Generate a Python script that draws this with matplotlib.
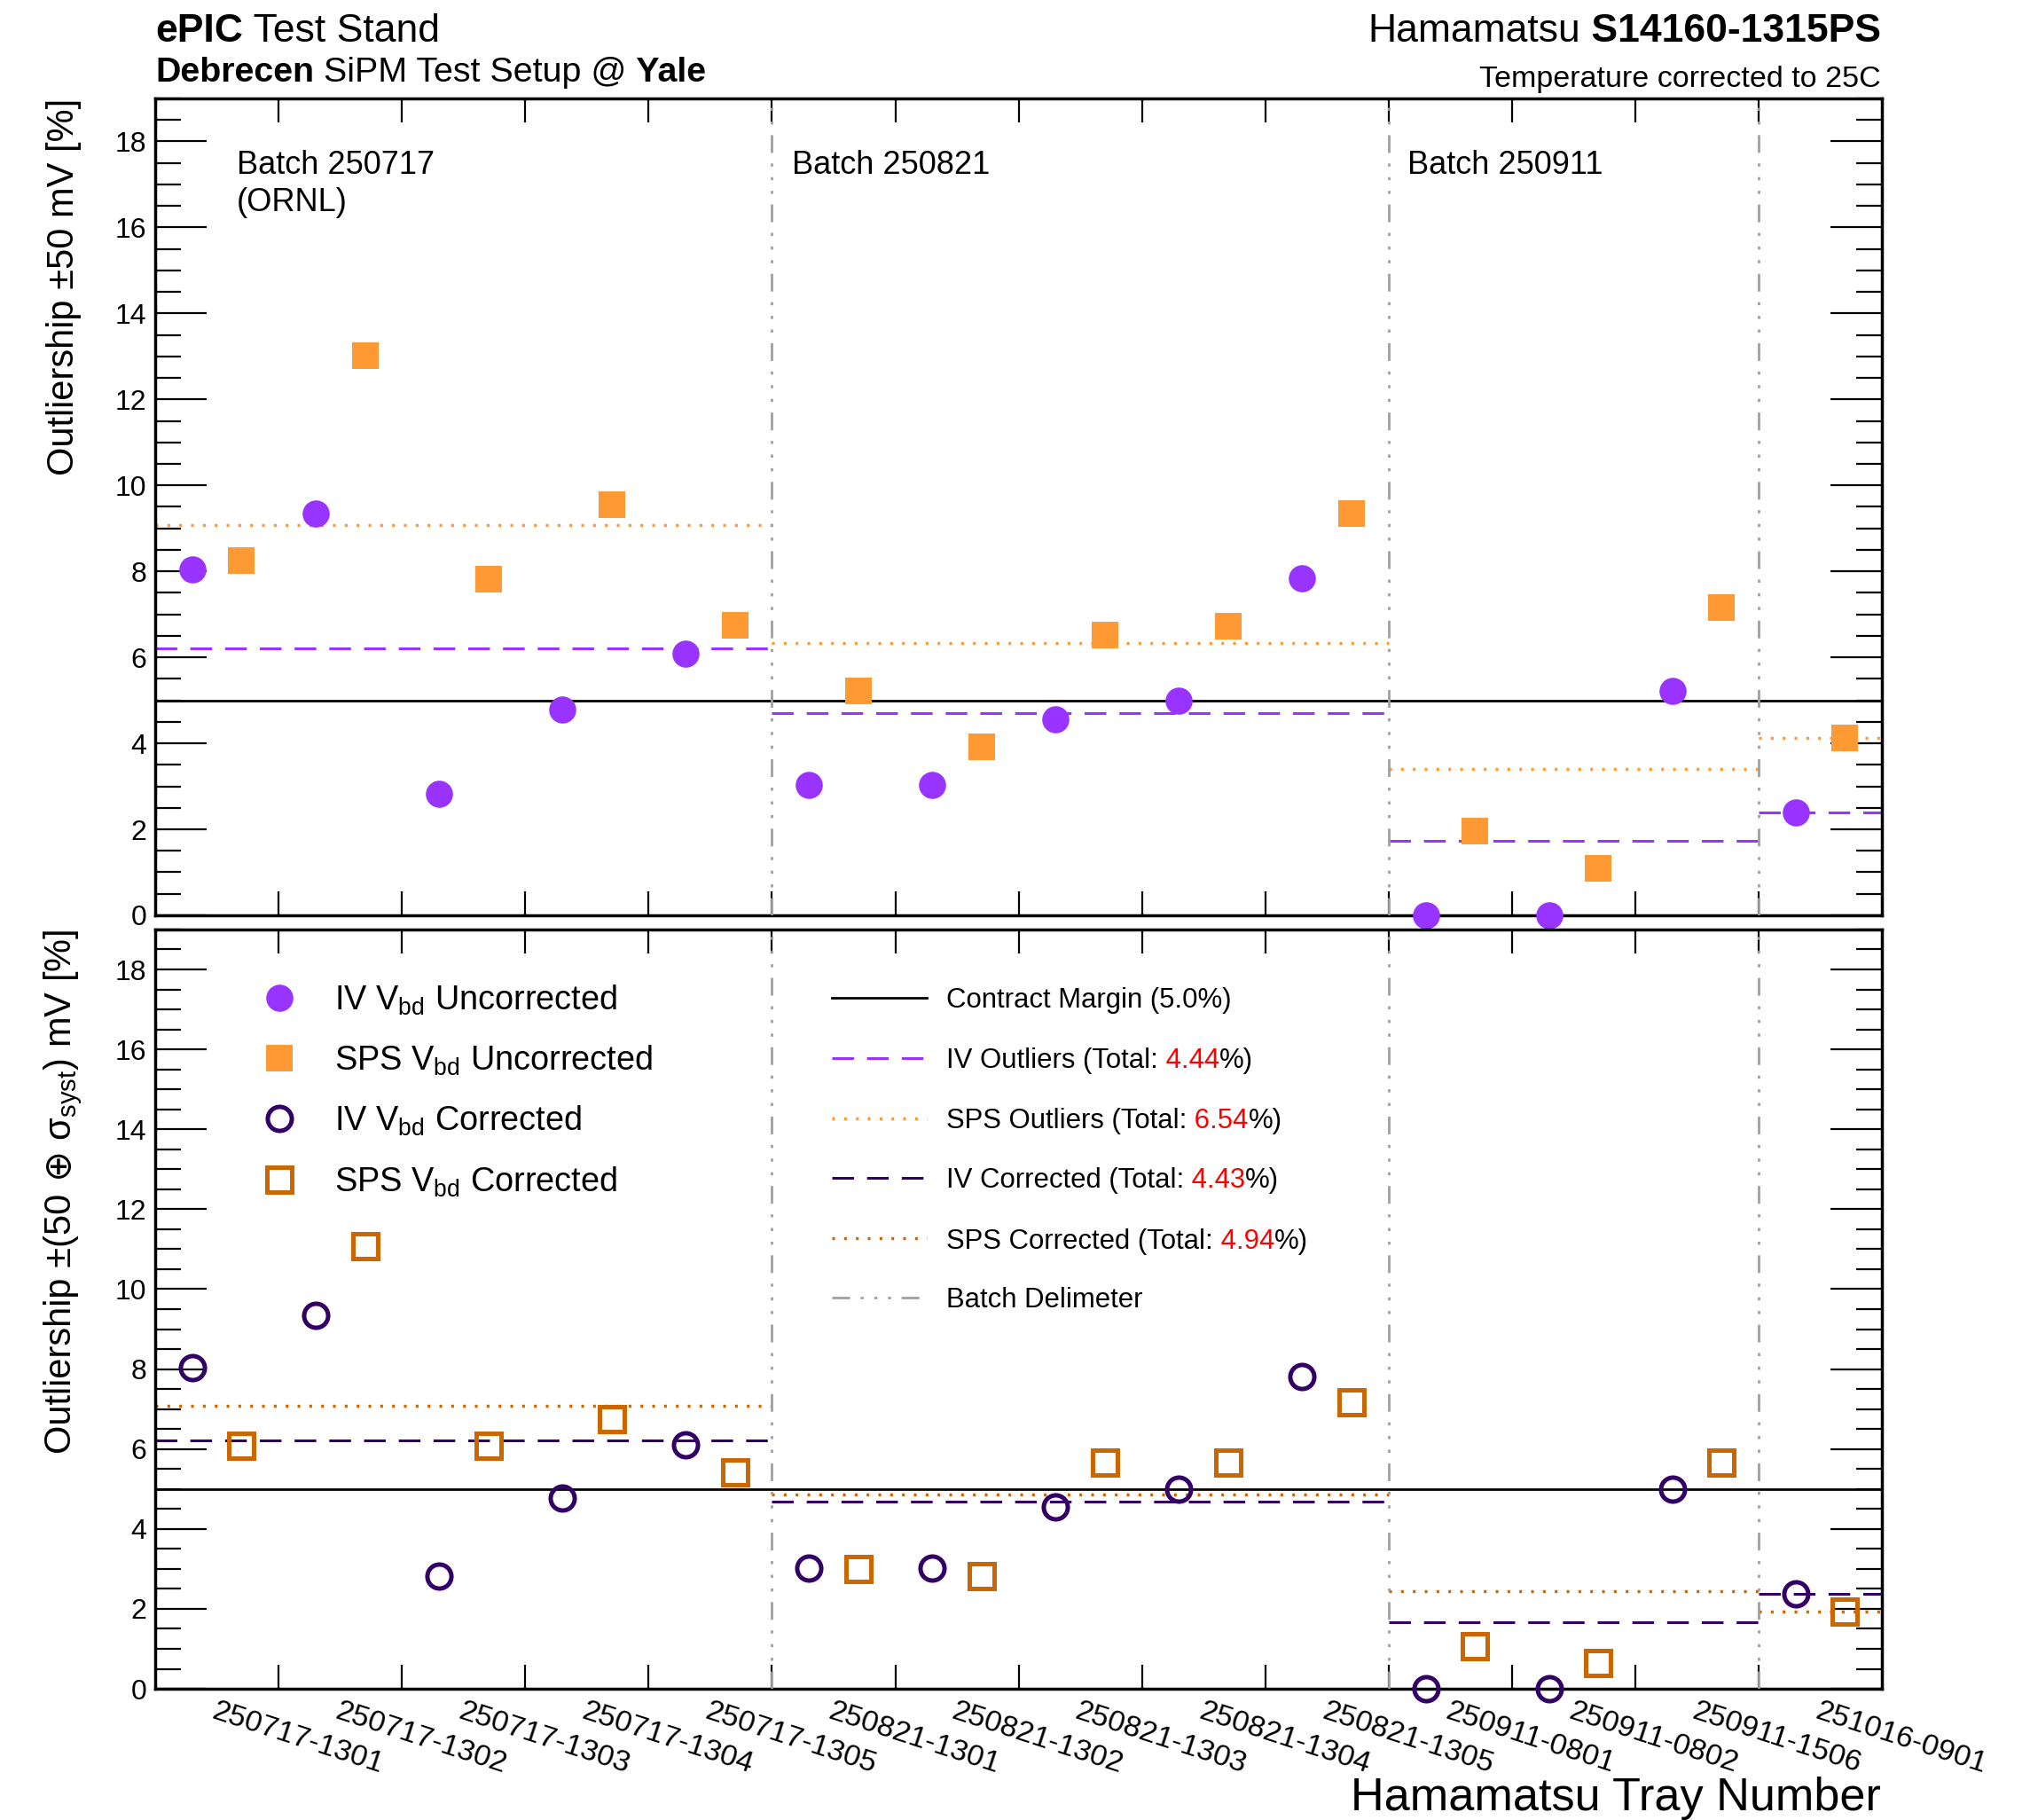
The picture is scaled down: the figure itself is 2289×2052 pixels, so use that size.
import numpy as np
import matplotlib
matplotlib.use("Agg")
import matplotlib.pyplot as plt
from matplotlib.lines import Line2D

plt.rcParams['font.family'] = ['Liberation Sans', 'DejaVu Sans']
plt.rcParams['mathtext.fontset'] = 'custom'
plt.rcParams['mathtext.rm'] = 'Liberation Sans'
plt.rcParams['mathtext.it'] = 'Liberation Sans:italic'
plt.rcParams['mathtext.bf'] = 'Liberation Sans:bold'
plt.rcParams['lines.scale_dashes'] = False

# ---------------- data ----------------
trays = ["250717-1301", "250717-1302", "250717-1303", "250717-1304", "250717-1305",
         "250821-1301", "250821-1302", "250821-1303", "250821-1304", "250821-1305",
         "250911-0801", "250911-0802", "250911-1506", "251016-0901"]
batch_edges = [0, 5, 10, 13, 14]
batch_names = [["Batch 250717", "(ORNL)"], ["Batch 250821"], ["Batch 250911"]]
batch_name_x = [0.66, 5.16, 10.15]

iv_uncorr = [8.04, 9.34, 2.83, 4.78, 6.09, 3.04, 3.04, 4.56, 5.00, 7.83, 0.00, 0.00, 5.21, 2.39]
sps_uncorr = [8.25, 13.01, 7.81, 9.55, 6.74, 5.21, 3.91, 6.51, 6.72, 9.34, 1.95, 1.09, 7.15, 4.13]
iv_corr = [8.03, 9.34, 2.82, 4.78, 6.10, 3.02, 3.02, 4.56, 5.00, 7.82, 0.00, 0.00, 5.00, 2.38]
sps_corr = [6.08, 11.08, 6.08, 6.75, 5.42, 3.00, 2.82, 5.65, 5.65, 7.18, 1.07, 0.64, 5.65, 1.93]

contract_margin = 5.0
total_iv = "4.44"
total_sps = "6.54"
total_ivc = "4.43"
total_spsc = "4.94"

# ---------------- style ----------------
C_IV = '#9933FF'
C_SPS = '#FF9933'
C_IVC = '#330066'
C_SPSC = '#CC6600'
C_GRAY = '#A0A0A0'
DASH = (17.6, 10.6)
DOT = (2.2, 7.4)
DELIM = (14.4, 8.6, 2.5, 8.6, 2.5, 8.6, 2.5, 8.6)

fig = plt.figure(figsize=(22.89, 20.52), dpi=100)
ax1 = fig.add_axes([0.0765, 0.4971, 0.8506, 0.4488])
ax2 = fig.add_axes([0.0765, 0.0721, 0.8506, 0.4172])

n = len(trays)
xpos = np.arange(n)
centers = xpos + 0.5


def style(ax):
    ax.set_xlim(0, n)
    ax.set_ylim(0, 19)
    ax.set_xticks(np.arange(1, n))
    ax.set_xticklabels([])
    ax.set_yticks(np.arange(0, 19, 2))
    ax.set_yticks(np.arange(0, 19.01, 0.5), minor=True)
    ax.tick_params(axis='y', which='major', direction='in', length=42, width=1.6,
                   left=True, right=True, labelsize=23, pad=7)
    ax.tick_params(axis='y', which='minor', direction='in', length=21, width=1.6,
                   left=True, right=True)
    ax.tick_params(axis='x', which='major', direction='in', length=19.5, width=1.6,
                   top=True, bottom=True)
    for sp in ax.spines.values():
        sp.set_linewidth(2.5)
    ax.axhline(contract_margin, color='black', lw=2.0, zorder=2)
    for e in batch_edges[1:-1]:
        ax.axvline(e, color=C_GRAY, lw=2.0, dashes=DELIM, zorder=3)


def batch_means(ax, vals, color, dashes, lw):
    v = np.asarray(vals)
    for k in range(len(batch_edges) - 1):
        a, b = batch_edges[k], batch_edges[k + 1]
        m = v[a:b].mean()
        ax.plot([a, b], [m, m], color=color, lw=lw, dashes=dashes, zorder=2)


style(ax1)
style(ax2)

# top panel
batch_means(ax1, iv_uncorr, C_IV, DASH, 2.2)
batch_means(ax1, sps_uncorr, C_SPS, DOT, 2.5)
ax1.plot(xpos + 0.3, iv_uncorr, 'o', ms=22, mew=0, color=C_IV, clip_on=False, zorder=6)
ax1.plot(xpos + 0.7, sps_uncorr, 's', ms=22, mew=0, color=C_SPS, clip_on=False, zorder=6)

# bottom panel
batch_means(ax2, iv_corr, C_IVC, DASH, 2.2)
batch_means(ax2, sps_corr, C_SPSC, DOT, 2.5)
ax2.plot(xpos + 0.3, iv_corr, 'o', ms=19.5, mfc='none', mec=C_IVC, mew=3.6,
         clip_on=False, zorder=6)
ax2.plot(xpos + 0.7, sps_corr, 's', ms=19.5, mfc='none', mec=C_SPSC, mew=3.6,
         clip_on=False, zorder=6)

# x tick labels (bin centres)
ax2.set_xticks(centers, trays, minor=True, rotation=-18, ha='left',
               rotation_mode='anchor')
ax2.tick_params(axis='x', which='minor', length=0, labelsize=24.5, pad=7)

# batch names
for names, bx in zip(batch_names, batch_name_x):
    ys = [17.25, 16.39]
    for t, yy in zip(names, ys):
        ax1.text(bx, yy, t, fontsize=26, ha='left', va='baseline')

# axis titles
ax1.text(-0.0529, 1.0, "Outliership ±50 mV [%]", rotation=90, ha='center', va='top',
         transform=ax1.transAxes, fontsize=30)

# bottom y title built top-down in three pieces (the ⊕ comes from DejaVu Sans)
yl_x = -0.0488
yl_c = ax2.text(yl_x, 1.0, r" σ$_{\mathregular{syst}}$) mV [%]", rotation=90,
                rotation_mode='anchor', ha='right', va='baseline',
                transform=ax2.transAxes, fontsize=30)
yl_b = ax2.annotate(" ⊕", xy=(yl_x, 0), xycoords=(ax2.transAxes, yl_c), rotation=90,
                    rotation_mode='anchor', ha='right', va='baseline', fontsize=30,
                    family=['DejaVu Sans'], annotation_clip=False)
yl_a = ax2.annotate("Outliership ±(50", xy=(yl_x, 0), xycoords=(ax2.transAxes, yl_b),
                    rotation=90, rotation_mode='anchor', ha='right', va='baseline',
                    fontsize=30, annotation_clip=False)

fig.text(0.9266, 0.0054, "Hamamatsu Tray Number", ha='right', va='baseline', fontsize=37.6)


def chain(first, parts, **common):
    prev = first
    for txt, kw in parts:
        kk = dict(common)
        kk.update(kw)
        prev = ax1.annotate(txt, xy=(1, 0), xycoords=prev, ha='left', va='bottom',
                            annotation_clip=False, **kk)
    return prev


# header
t = fig.text(0.0765, 0.9727, "ePIC", fontsize=32, fontweight='bold', ha='left', va='bottom')
chain(t, [(" Test Stand", dict(fontsize=32))])
t = fig.text(0.0765, 0.9513, "Debrecen", fontsize=28.4, fontweight='bold', ha='left', va='bottom')
chain(t, [(" SiPM Test Setup @", dict(fontsize=28.4)),
          (" Yale", dict(fontsize=28.4, fontweight='bold'))])
tb = fig.text(0.9266, 0.9727, " S14160-1315PS", fontsize=32, fontweight='bold',
              ha='right', va='bottom')
ax1.annotate("Hamamatsu", xy=(0, 0), xycoords=tb, ha='right', va='bottom', fontsize=32,
             annotation_clip=False)
fig.text(0.9266, 0.9488, "Temperature corrected to 25C", fontsize=24.5, ha='right',
         va='bottom')

# ---------------- legends (bottom panel) ----------------
mk_x = 0.0719
txt_x = 0.1037
rows_l = [0.910, 0.8306, 0.751, 0.6706]
leg_l = [
    (r"IV V$_{\mathregular{bd}}$ Uncorrected", dict(marker='o', ms=22, mew=0, color=C_IV)),
    (r"SPS V$_{\mathregular{bd}}$ Uncorrected", dict(marker='s', ms=22, mew=0, color=C_SPS)),
    (r"IV V$_{\mathregular{bd}}$ Corrected", dict(marker='o', ms=19.5, mfc='none', mec=C_IVC, mew=3.6)),
    (r"SPS V$_{\mathregular{bd}}$ Corrected", dict(marker='s', ms=19.5, mfc='none', mec=C_SPSC, mew=3.6)),
]
for (lab, mk), yy in zip(leg_l, rows_l):
    ax2.add_line(Line2D([mk_x], [yy], linestyle='none', transform=ax2.transAxes, **mk))
    ax2.text(txt_x, yy - 0.016, lab, fontsize=27.3, ha='left', va='baseline',
             transform=ax2.transAxes)

ln_x0, ln_x1, lt_x = 0.392, 0.447, 0.458
rows_r = [0.910, 0.8306, 0.751, 0.673, 0.593, 0.515]
leg_r = [
    (dict(color='black', lw=2.0), [("Contract Margin (5.0%)", 'black')]),
    (dict(color=C_IV, lw=2.2, dashes=DASH), [("IV Outliers (Total:", 'black'), (" " + total_iv, 'red'), ("%)", 'black')]),
    (dict(color=C_SPS, lw=2.5, dashes=DOT), [("SPS Outliers (Total:", 'black'), (" " + total_sps, 'red'), ("%)", 'black')]),
    (dict(color=C_IVC, lw=2.2, dashes=DASH), [("IV Corrected (Total:", 'black'), (" " + total_ivc, 'red'), ("%)", 'black')]),
    (dict(color=C_SPSC, lw=2.5, dashes=DOT), [("SPS Corrected (Total:", 'black'), (" " + total_spsc, 'red'), ("%)", 'black')]),
    (dict(color=C_GRAY, lw=2.0, dashes=DELIM), [("Batch Delimeter", 'black')]),
]
for (lkw, parts), yy in zip(leg_r, rows_r):
    ax2.add_line(Line2D([ln_x0, ln_x1], [yy, yy], transform=ax2.transAxes, **lkw))
    first = ax2.text(lt_x, yy - 0.013, parts[0][0], color=parts[0][1], fontsize=22.4,
                     ha='left', va='baseline', transform=ax2.transAxes)
    prev = first
    for txt, col in parts[1:]:
        prev = ax2.annotate(txt, xy=(1, 0), xycoords=prev, ha='left', va='bottom',
                            fontsize=22.4, color=col, annotation_clip=False)

fig.savefig("out.png", dpi=100)
